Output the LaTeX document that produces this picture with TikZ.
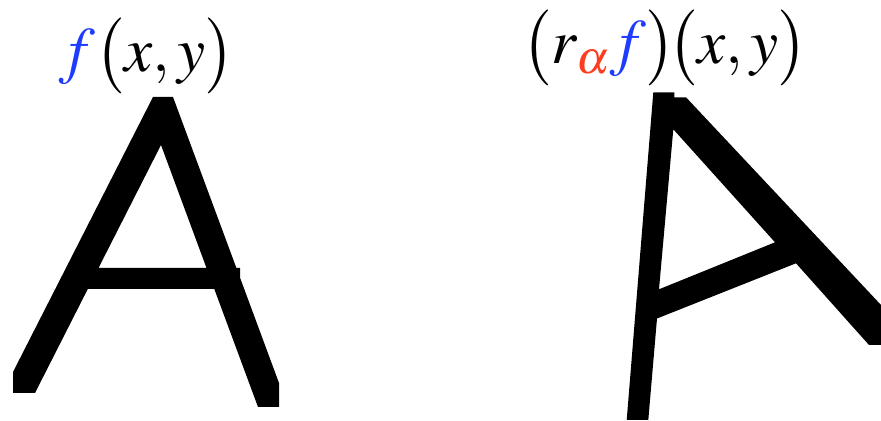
\documentclass[tikz,border=0pt]{standalone}
\usepackage{amsmath}
\usepackage{mathptmx}
\usepackage{tikz}

\definecolor{fblue}{RGB}{30,60,255}
\definecolor{alphared}{RGB}{255,60,30}

\begin{document}
\begin{tikzpicture}[x=0.02cm, y=-0.02cm,
   letter/.style={fill=black, even odd rule},
   formula/.style={inner sep=0pt, anchor=base, font=\fontsize{36}{42}\selectfont}
]
\useasboundingbox (0,0) rectangle (881,421);

% Labels
\node [formula] (orig) at (147,72) {$\textcolor{fblue}{f}\bigl(x,y\bigr)$};
\node [formula] (rotated) at (665,64) {$\bigl(r_{\textcolor{alphared}{\alpha}}\textcolor{fblue}{f}\bigr)\!\bigl(x,y\bigr)$};

% Original letter
\path [letter] (13,372) -- (153,97) -- (173,97) -- (236.4,268) -- (240,268) -- (240,277.6)
   -- (279,383) -- (279,407) -- (258,407) -- (214.3,289) -- (87.8,289) -- (35,393) -- (13,393) -- cycle
   (161,145) -- (206.5,268) -- (98.5,268) -- cycle;

% Rotated letter
\path [letter] (626.7,420) -- (653.3,92.3) -- (674.3,92.3) -- (674.3,97.3) -- (686,97.3)
   -- (881,305) -- (881,345) -- (869,345) -- (796,263.3) -- (657,318.5) -- (648.3,420) -- cycle
   (673.3,129.3) -- (775,242.3) -- (659,289.3) -- cycle;
\end{tikzpicture}
\end{document}
